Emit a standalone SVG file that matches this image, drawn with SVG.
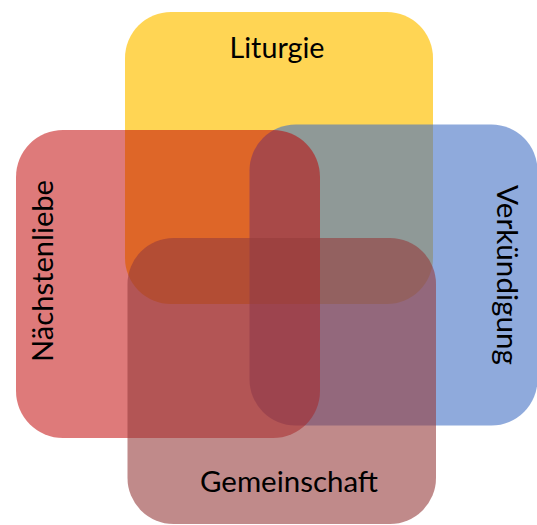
<svg xmlns="http://www.w3.org/2000/svg" width="537" height="525" viewBox="0 0 537 525">
  <style>
    .lbl { font-family: "Lato", "Open Sans", "Liberation Sans", sans-serif; font-size: 29px; fill: #000; text-anchor: middle; }
  </style>
  <rect x="0" y="0" width="537" height="525" fill="#ffffff"/>
  <g id="liturgie">
    <rect x="125" y="12" width="308" height="292" rx="46" ry="46" fill="#FFC000" fill-opacity="0.67"/>
  </g>
  <g id="verkuendigung">
    <rect x="249.5" y="124.5" width="288" height="301" rx="46" ry="46" fill="#4472C4" fill-opacity="0.6"/>
  </g>
  <g id="naechstenliebe">
    <rect x="16" y="130" width="304" height="308" rx="47" ry="47" fill="#C00000" fill-opacity="0.52"/>
  </g>
  <g id="gemeinschaft">
    <rect x="127.5" y="238" width="308.5" height="286" rx="46" ry="46" fill="#963C3C" fill-opacity="0.6"/>
  </g>
  <g id="labels">
    <text class="lbl" x="277" y="58" textLength="95" lengthAdjust="spacingAndGlyphs">Liturgie</text>
    <text class="lbl" x="289" y="492" textLength="178" lengthAdjust="spacingAndGlyphs">Gemeinschaft</text>
    <text class="lbl" transform="translate(53,271) rotate(-90)" x="0" y="0" textLength="182" lengthAdjust="spacingAndGlyphs">Nächstenliebe</text>
    <text class="lbl" transform="translate(497,275) rotate(90)" x="0" y="0" textLength="180" lengthAdjust="spacingAndGlyphs">Verkündigung</text>
  </g>
  <g id="connectors"></g>
</svg>
